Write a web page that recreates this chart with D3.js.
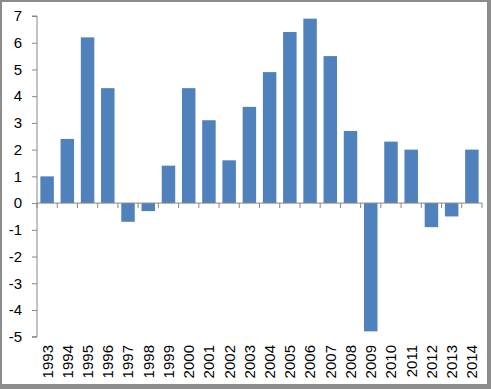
<!DOCTYPE html>
<html><head><meta charset="utf-8">
<script src="https://cdn.jsdelivr.net/npm/d3@7"></script>
<style>html,body{margin:0;padding:0;background:#fff;}svg{display:block;}</style>
</head><body>
<script>
const years = ["1993","1994","1995","1996","1997","1998","1999","2000","2001","2002","2003","2004","2005","2006","2007","2008","2009","2010","2011","2012","2013","2014"];
const values = [1.0,2.4,6.2,4.3,-0.7,-0.3,1.4,4.3,3.1,1.6,3.6,4.9,6.4,6.9,5.5,2.7,-4.8,2.3,2.0,-0.9,-0.5,2.0];
const yTicks = [7,6,5,4,3,2,1,0,-1,-2,-3,-4,-5];

const W = 491, H = 389;
const svg = d3.select("body").append("svg").attr("width", W).attr("height", H);
svg.append("rect").attr("width", W).attr("height", H).attr("fill", "#8c8c8c");
svg.append("rect").attr("x", 2).attr("y", 2).attr("width", 485).attr("height", 382).attr("fill", "#fff");

const x = d3.scaleBand().domain(years).range([37, 482]).paddingInner(1/3).paddingOuter(1/6);
const y = d3.scaleLinear().domain([-5, 7]).range([336.7, 16]);
const font = "'Liberation Sans', Arial, sans-serif";
const axisColor = "#868686";

svg.append("g").selectAll("rect").data(values).join("rect")
  .attr("x", (d, i) => x(years[i]))
  .attr("width", x.bandwidth())
  .attr("y", d => y(Math.max(0, d)))
  .attr("height", d => Math.abs(y(d) - y(0)))
  .attr("fill", "#4f81bd");

// y axis
const yAxis = d3.axisLeft(y).tickValues(yTicks).tickSize(5).tickPadding(10).tickFormat(d => String(d));
const gy = svg.append("g").attr("transform", "translate(37,0)").call(yAxis);
gy.select(".domain").attr("stroke", axisColor).attr("d", `M-5,${y(7)}H0V${y(-5)}H-5`);
gy.selectAll(".tick line").attr("stroke", axisColor);
gy.selectAll("text").attr("font-family", font).attr("font-size", 15).attr("fill", "#000");

// zero line with ticks at category boundaries
const step = x.step();
const bounds = d3.range(years.length + 1).map(i => 37 + i * step);
const gx = svg.append("g");
gx.append("line").attr("x1", 37).attr("x2", 482).attr("y1", y(0)).attr("y2", y(0)).attr("stroke", axisColor);
gx.selectAll("line.t").data(bounds).join("line").attr("class", "t")
  .attr("x1", d => d).attr("x2", d => d).attr("y1", y(0)).attr("y2", y(0) + 5).attr("stroke", axisColor);

// year labels at bottom
svg.append("g").selectAll("text").data(years).join("text")
  .attr("transform", d => `translate(${x(d) + x.bandwidth() / 2},345) rotate(-90)`)
  .attr("text-anchor", "end")
  .attr("dy", "0.36em")
  .attr("font-family", font).attr("font-size", 15).attr("fill", "#000")
  .text(d => d);
</script>
</body></html>
